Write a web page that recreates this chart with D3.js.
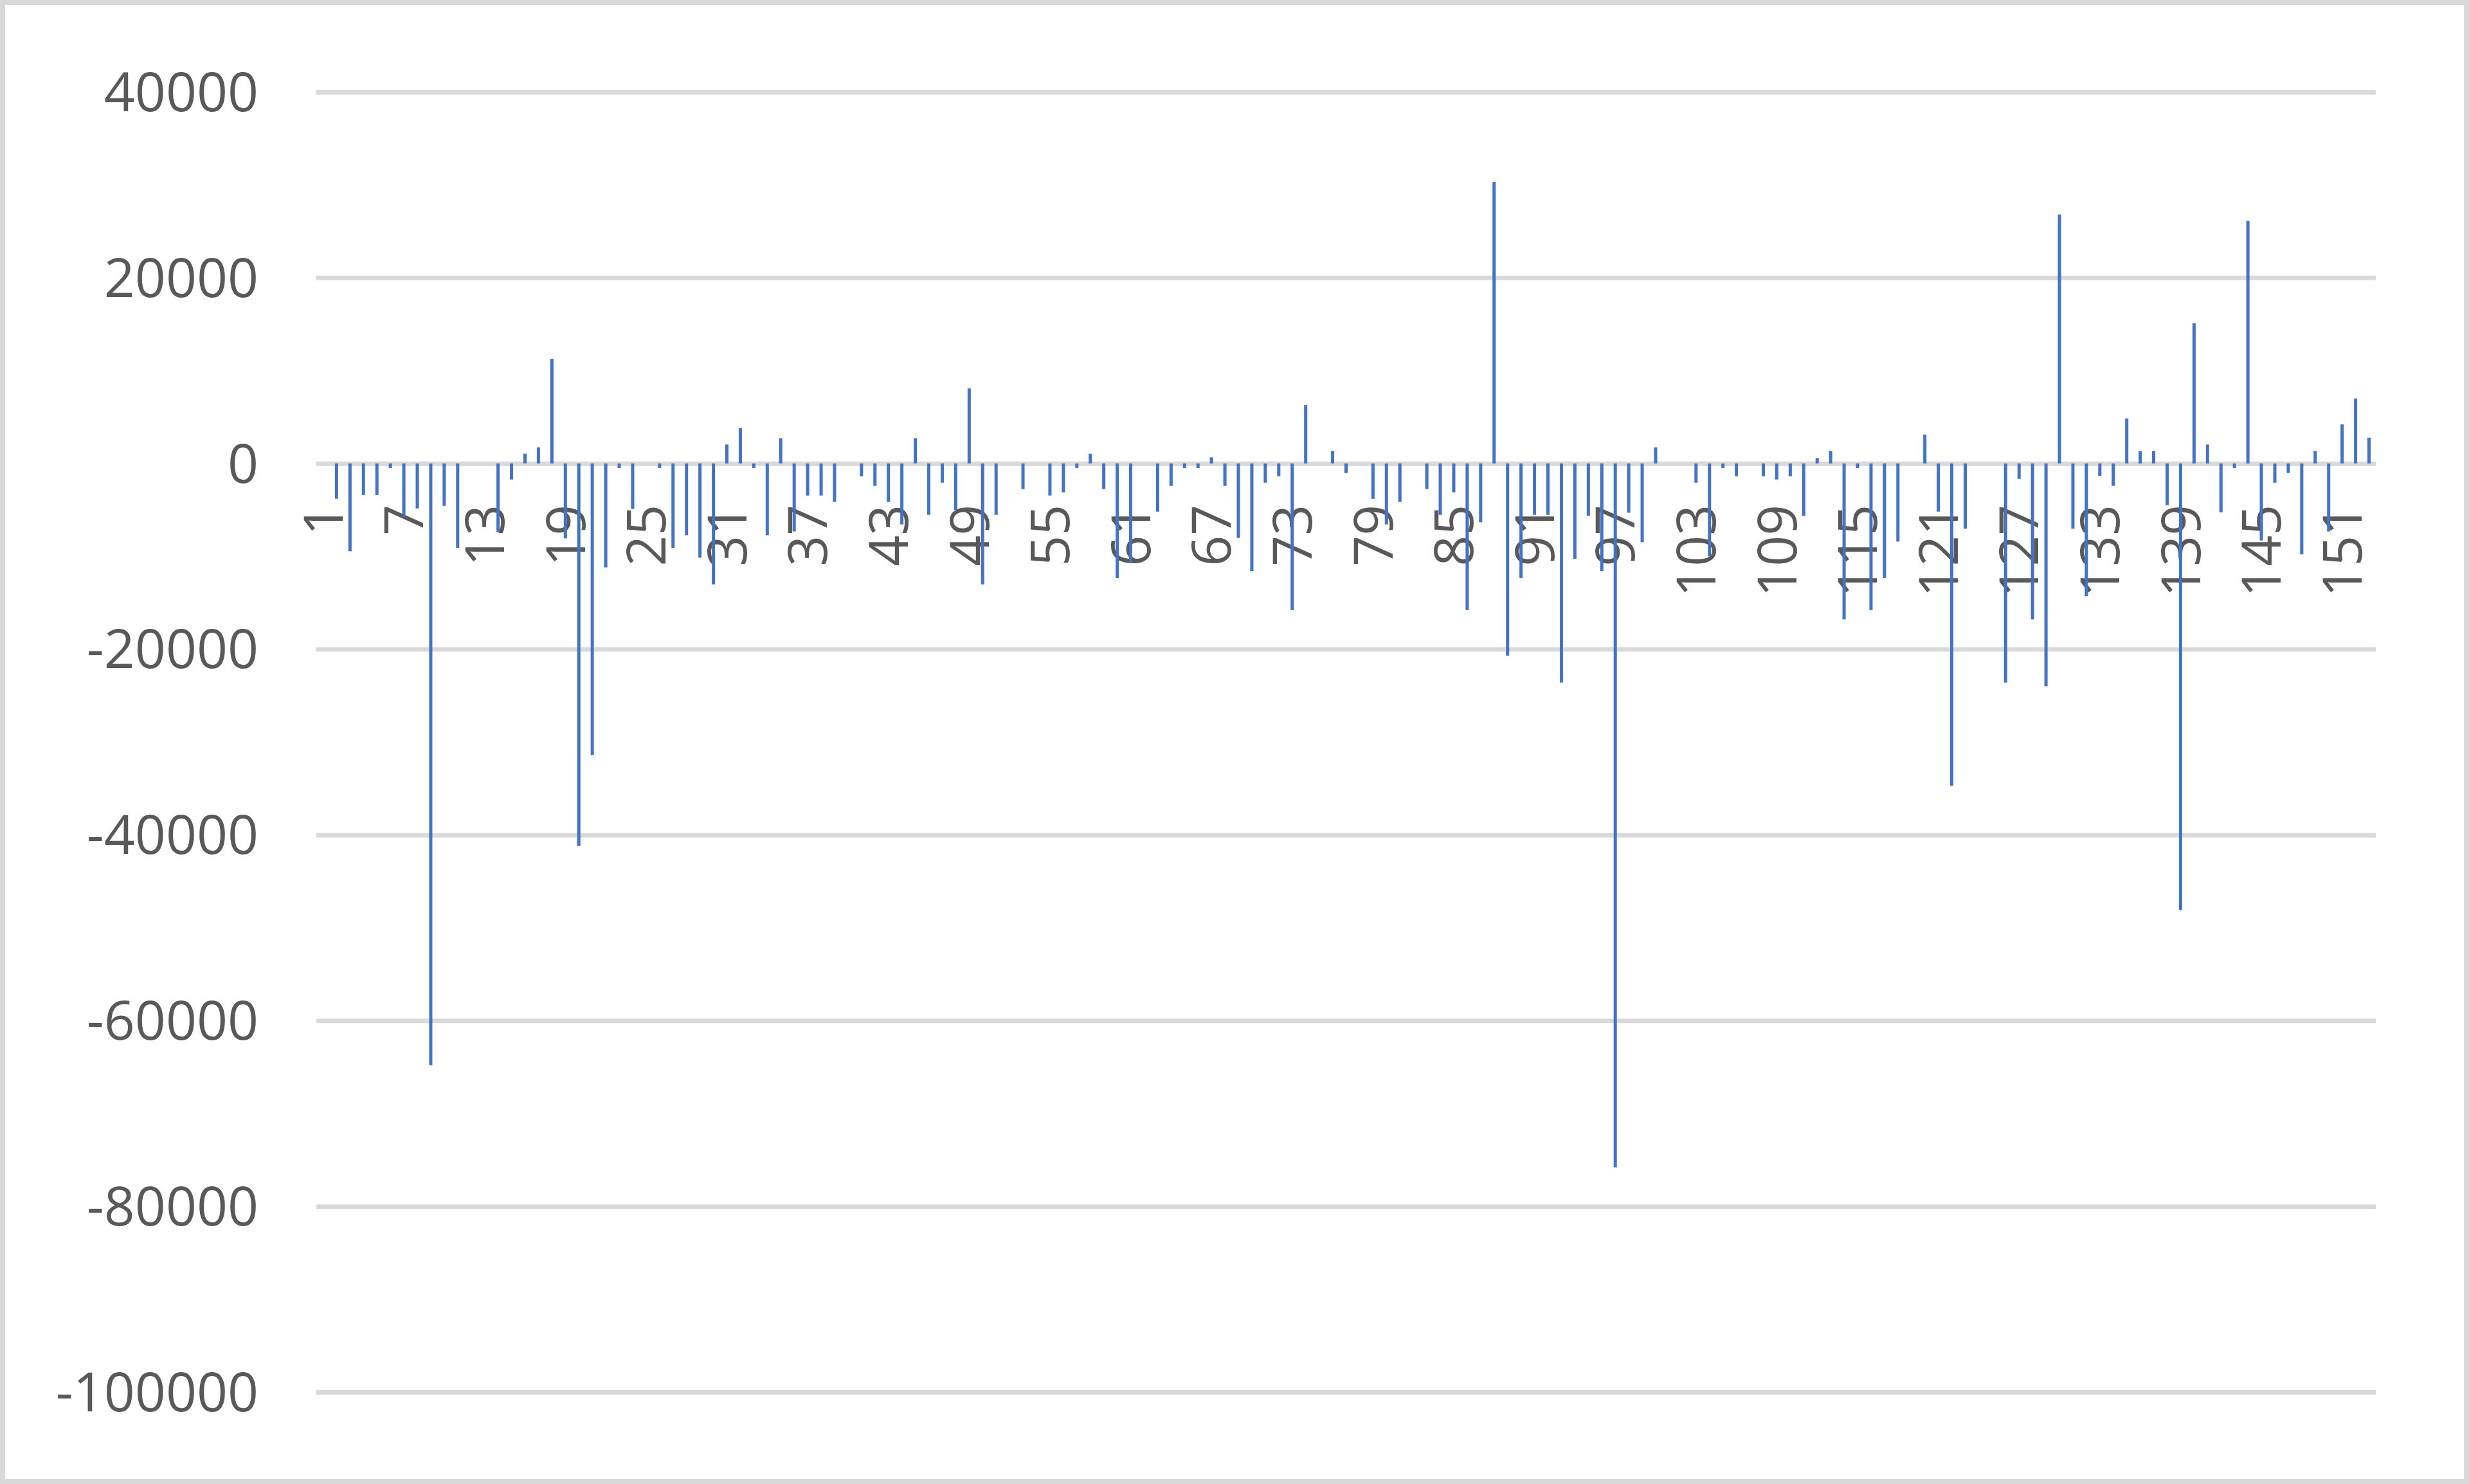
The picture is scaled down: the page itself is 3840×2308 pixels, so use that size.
<!DOCTYPE html>
<html><head><meta charset="utf-8">
<script src="https://cdn.jsdelivr.net/npm/d3@7"></script>
<style>body{margin:0;background:#fff}svg{display:block}</style>
</head><body>
<script>
const categories = d3.range(1, 154).map(String);
const values = [
  0, -3800, -9460, -3400, -3400, -500, -5770, -4850, -64800, -4570,
  -9110, 0, 0, -7380, -1730, 1040, 1730, 11260, -8070, -41200,
  -31400, -11200, -500, -4900, 0, -500, -9110, -7730, -10150, -13030,
  2030, 3810, -500, -7730, 2720, -7320, -3460, -3460, -4150, 0,
  -1380, -2420, -4150, -6570, 2720, -5540, -2080, -5000, 8070, -13030,
  -5540, 0, -2770, 0, -3460, -3110, -500, 1040, -2770, -12340,
  -10660, 0, -5190, -2420, -500, -500, 650, -2420, -8030, -11600,
  -2080, -1380, -15800, 6270, 0, 1340, -1040, 0, -3810, -6570,
  -4150, 0, -2770, -5540, -3110, -15800, -6340, 30300, -20700, -12340,
  -5540, -5540, -23600, -10270, -5650, -11600, -75800, -5310, -8490, 1730,
  0, 0, -2080, -10000, -500, -1380, 0, -1380, -1730, -1380,
  -5650, 580, 1340, -16800, -500, -15800, -12340, -8420, 0, 3110,
  -5190, -34700, -7030, 0, 0, -23600, -1660, -16800, -24000, 26800,
  -7030, -14300, -1340, -2420, 4840, 1340, 1340, -4500, -48100, 15100,
  2030, -5260, -500, 26100, -8300, -2080, -1040, -9800, 1340, -7330,
  4200, 6990, 2770
];
const yTicks = [40000, 20000, 0, -20000, -40000, -60000, -80000, -100000];
const xTickLabels = ["1","7","13","19","25","31","37","43","49","55","61","67","73","79","85","91","97","103","109","115","121","127","133","139","145","151"];

const W = 3840, H = 2308;
const plot = {left: 492, right: 3695, top: 143, bottom: 2165};
const gridColor = "#d9d9d9", textColor = "#595959", barColor = "#4472C4";
const font = "'Open Sans', 'Liberation Sans', sans-serif";

const svg = d3.select("body").append("svg").attr("width", W).attr("height", H);
svg.append("rect").attr("x", 4).attr("y", 4).attr("width", W - 8).attr("height", H - 8)
  .attr("fill", "#fff").attr("stroke", gridColor).attr("stroke-width", 8);

const x = d3.scaleBand().domain(categories).range([plot.left, plot.right]).padding(0);
const y = d3.scaleLinear().domain([-100000, 40000]).range([plot.bottom, plot.top]);

// y axis with gridlines
const gy = svg.append("g").attr("transform", `translate(${plot.left},0)`)
  .call(d3.axisLeft(y).tickValues(yTicks).tickFormat(d => String(d))
    .tickSize(-(plot.right - plot.left)).tickPadding(90));
gy.select(".domain").remove();
gy.selectAll(".tick line").attr("stroke", gridColor).attr("stroke-width", 7);
gy.selectAll(".tick text").attr("fill", textColor).attr("font-family", font)
  .attr("font-size", 84).attr("dy", "0.35em");

// x axis labels (rotated)
const gx = svg.append("g").attr("transform", `translate(0,${y(0)})`)
  .call(d3.axisBottom(x).tickValues(xTickLabels).tickSize(0));
gx.select(".domain").remove();
gx.selectAll(".tick text").attr("fill", textColor).attr("font-family", font)
  .attr("font-size", 84).attr("transform", "rotate(-90)")
  .attr("text-anchor", "end").attr("x", -64).attr("y", 0).attr("dy", "0.36em");

// bars
const bw = 5;
svg.append("g").selectAll("rect").data(values).join("rect")
  .attr("x", (d, i) => x(categories[i]) + x.bandwidth() / 2 - bw / 2)
  .attr("width", bw)
  .attr("y", d => y(Math.max(0, d)))
  .attr("height", d => Math.abs(y(d) - y(0)))
  .attr("fill", barColor);
</script>
</body></html>
